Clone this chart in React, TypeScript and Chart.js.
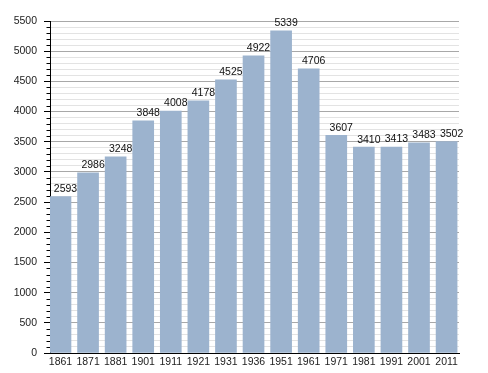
import React, { useEffect, useRef } from "react";
import { Chart, registerables } from "chart.js";

Chart.register(...registerables);

const years = ["1861", "1871", "1881", "1901", "1911", "1921", "1931", "1936", "1951", "1961", "1971", "1981", "1991", "2001", "2011"];
const population = [2593, 2986, 3248, 3848, 4008, 4178, 4525, 4922, 5339, 4706, 3607, 3410, 3413, 3483, 3502];
const yMax = 5500;
const majorStep = 500;
const minorStep = 100;

const valueLabels = {
  id: "valueLabels",
  afterDatasetsDraw(chart: any) {
    const ctx = chart.ctx;
    const meta = chart.getDatasetMeta(0);
    ctx.save();
    ctx.font = "10.5px 'Liberation Sans', Arial, sans-serif";
    ctx.fillStyle = "#111";
    ctx.textAlign = "center";
    ctx.textBaseline = "alphabetic";
    meta.data.forEach((bar: any, i: number) => {
      ctx.fillText(String(population[i]), bar.x + 5, bar.y - 4.6);
    });
    ctx.restore();
  },
};

const minorTicks = {
  id: "minorTicks",
  afterDraw(chart: any) {
    const ctx = chart.ctx;
    const y = chart.scales.y;
    const left = chart.chartArea.left;
    ctx.save();
    ctx.strokeStyle = "#000";
    ctx.lineWidth = 1;
    for (let v = 0; v <= yMax; v += minorStep) {
      if (v % majorStep === 0) continue;
      const py = Math.round(y.getPixelForValue(v)) + 0.5;
      ctx.beginPath();
      ctx.moveTo(left - 3.5, py);
      ctx.lineTo(left, py);
      ctx.stroke();
    }
    ctx.restore();
  },
};

export default function App() {
  const ref = useRef<HTMLCanvasElement>(null);
  useEffect(() => {
    if (!ref.current) return;
    const chart = new Chart(ref.current, {
      type: "bar",
      data: {
        datasets: [
          {
            data: years.map((_, i) => ({ x: i, y: population[i] })),
            backgroundColor: "#9cb3ce",
            borderWidth: 0,
            barThickness: 21,
          },
        ],
      },
      options: {
        responsive: false,
        animation: false,
        layout: { padding: { top: 21, right: 29, bottom: 0, left: 0 } },
        plugins: { legend: { display: false }, tooltip: { enabled: false } },
        scales: {
          x: {
            type: "linear",
            min: -0.38,
            max: 14.45,
            offset: false,
            grid: { display: false, drawTicks: false, tickLength: 0, offset: false },
            border: { display: true, color: "#000", width: 1 },
            afterBuildTicks: (s: any) => {
              s.ticks = years.map((_, i) => ({ value: i }));
            },
            afterFit: (s: any) => {
              s.height = 20;
            },
            ticks: {
              autoSkip: false,
              maxRotation: 0,
              padding: 3,
              color: "#222",
              font: { family: "'Liberation Sans', Arial, sans-serif", size: 10.5 },
              callback: (v: any) => years[Math.round(Number(v))] ?? "",
            },
          },
          y: {
            min: 0,
            max: yMax,
            afterFit: (s: any) => {
              s.width = 50;
            },
            border: { display: true, color: "#000", width: 1 },
            grid: {
              color: (c: any) => (c.tick && c.tick.value % majorStep === 0 ? "#a8a8a8" : "#e3e3e3"),
              tickColor: (c: any) => (c.tick && c.tick.value % majorStep === 0 ? "#000" : "rgba(0,0,0,0)"),
              tickLength: 6,
              drawTicks: true,
            },
            ticks: {
              stepSize: minorStep,
              autoSkip: false,
              padding: 7,
              color: "#222",
              font: { family: "'Liberation Sans', Arial, sans-serif", size: 10.5 },
              callback: (v: any) => (Number(v) % majorStep === 0 ? String(v) : ""),
            },
          },
        },
      },
      plugins: [valueLabels, minorTicks],
    } as any);
    return () => chart.destroy();
  }, []);
  return (
    <div style={{ position: "fixed", left: 0, top: 0, width: 488, height: 373, background: "#fff" }}>
      <canvas ref={ref} width={488} height={373} style={{ display: "block" }} />
    </div>
  );
}
